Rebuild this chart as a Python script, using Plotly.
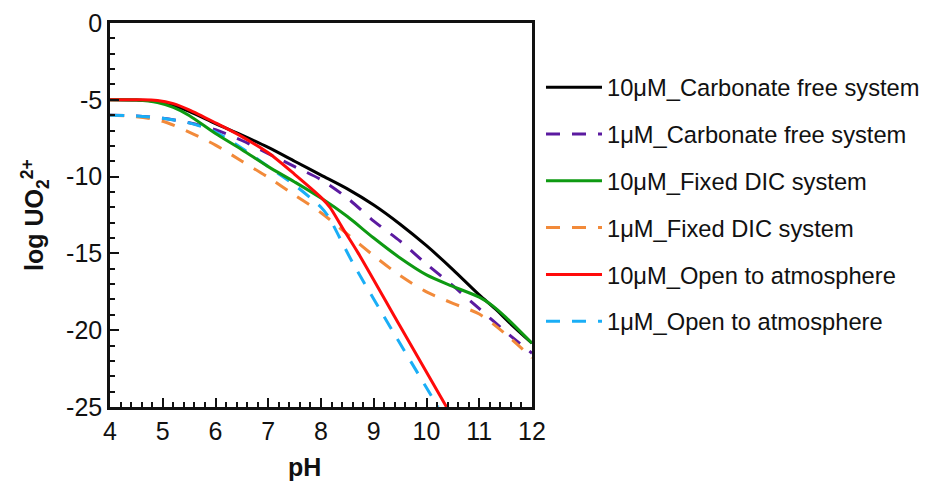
import plotly.graph_objects as go

# ---- data ----
names = ["10μM_Carbonate free system", "1μM_Carbonate free system",
         "10μM_Fixed DIC system", "1μM_Fixed DIC system",
         "10μM_Open to atmosphere", "1μM_Open to atmosphere"]

ph_cf10 = [4, 4.5, 5.0, 5.5, 6.0, 6.5, 7.0, 7.5, 8.0, 8.5, 9.0, 9.5, 10.0, 10.5, 11.0, 11.3, 11.6, 12]
lg_cf10 = [-5, -5.02, -5.15, -5.75, -6.55, -7.3, -8.1, -9.0, -9.9, -10.8, -11.85, -13.1, -14.5, -16.05, -17.7, -18.6, -19.6, -20.85]

ph_cf1 = [4, 4.5, 5.0, 5.5, 6.0, 6.5, 7.0, 7.5, 8.0, 8.5, 9.0, 9.5, 10.0, 10.5, 11.0, 11.5, 12]
lg_cf1 = [-6.0, -6.05, -6.2, -6.5, -6.95, -7.65, -8.5, -9.35, -10.2, -11.4, -12.9, -14.2, -15.7, -17.1, -18.6, -20.1, -21.5]

ph_dic10 = [4, 4.5, 4.9, 5.2, 5.5, 6.0, 6.5, 7.0, 7.5, 8.0, 8.5, 9.0, 9.5, 10.0, 10.5, 11.0, 11.25, 11.5, 12]
lg_dic10 = [-5, -5.02, -5.18, -5.5, -6.02, -7.2, -8.25, -9.35, -10.35, -11.4, -12.6, -14.0, -15.3, -16.4, -17.15, -17.85, -18.4, -19.15, -20.85]

ph_dic1 = [4, 4.5, 5.0, 5.5, 6.0, 6.5, 7.0, 7.5, 8.0, 8.5, 9.0, 9.5, 10.0, 10.5, 11.0, 11.5, 12]
lg_dic1 = [-6.0, -6.1, -6.4, -7.1, -7.95, -9.0, -10.05, -11.2, -12.35, -13.75, -15.15, -16.45, -17.5, -18.25, -18.95, -20.25, -21.8]

ph_open10 = [4, 4.5, 4.9, 5.2, 5.5, 6.0, 6.5, 7.0, 7.5, 8.0, 8.17, 8.4, 8.7, 9.5, 10.38]
lg_open10 = [-5, -5.0, -5.04, -5.25, -5.65, -6.5, -7.4, -8.45, -9.85, -11.35, -12.0, -13.3, -14.95, -19.75, -25]

ph_open1 = [4, 4.5, 5.0, 5.5, 6.0, 6.5, 7.0, 7.5, 8.0, 8.15, 8.35, 8.6, 9.4, 10.22]
lg_open1 = [-6.0, -6.05, -6.2, -6.5, -7.1, -8.15, -9.35, -10.55, -12.0, -12.65, -13.95, -15.6, -20.3, -25]

x_ticks = [4, 5, 6, 7, 8, 9, 10, 11, 12]
y_ticks = [0, -5, -10, -15, -20, -25]
y_ticktext = ["0", "-5", "-10", "-15", "-20", "-25"]

series = [
    (ph_cf10, lg_cf10, "#000000", "solid"),
    (ph_cf1, lg_cf1, "#5B1AA0", "14px,12px"),
    (ph_dic10, lg_dic10, "#0E9A12", "solid"),
    (ph_dic1, lg_dic1, "#F28A3A", "14px,12px"),
    (ph_open10, lg_open10, "#FF0A0A", "solid"),
    (ph_open1, lg_open1, "#1AAEF6", "14px,12px"),
]

fig = go.Figure()
draw_order = [1, 0, 3, 5, 2, 4]
traces = {}
for i, (xs, ys, col, dash) in enumerate(series):
    traces[i] = go.Scatter(
        x=xs, y=ys, mode="lines", name=names[i], legendrank=i + 1,
        legendgroup=f"g{i}",
        line=dict(color=col, width=3, dash=dash, shape="spline", smoothing=0.8),
    )
for i in draw_order:
    fig.add_trace(traces[i])

FONT = "Arial, Liberation Sans, sans-serif"
axis_font = dict(family=FONT, size=25, color="#111")

fig.update_layout(
    width=929, height=483,
    margin=dict(l=110, r=397, t=23, b=76, autoexpand=False),
    plot_bgcolor="white", paper_bgcolor="white",
    font=dict(family=FONT, color="#111"),
    showlegend=True,
    legend=dict(
        x=1.0213, xref="paper", xanchor="left", y=0.890, yanchor="top",
        font=dict(size=23.7, family=FONT, color="#111"),
        itemwidth=56, tracegroupgap=13, bgcolor="rgba(0,0,0,0)",
        traceorder="grouped",
    ),
    xaxis=dict(
        range=[4, 12], tickmode="array", tickvals=x_ticks,
        ticks="inside", ticklen=9, tickwidth=2, tickcolor="#111",
        minor=dict(ticks="inside", ticklen=5, tickwidth=2, tickcolor="#111", dtick=0.2, tick0=4),
        showline=True, linewidth=2.5, linecolor="#111", mirror=True,
        showgrid=False, zeroline=False, tickfont=axis_font,
    ),
    yaxis=dict(
        range=[-25, 0], tickmode="array", tickvals=y_ticks, ticktext=y_ticktext,
        ticks="inside", ticklen=9, tickwidth=2, tickcolor="#111",
        minor=dict(ticks="inside", ticklen=5, tickwidth=2, tickcolor="#111", dtick=1, tick0=0),
        showline=True, linewidth=2.5, linecolor="#111", mirror=True,
        showgrid=False, zeroline=False, tickfont=axis_font,
    ),
    annotations=[
        dict(text="<b>pH</b>", xref="paper", yref="paper", x=0.462, y=-0.155,
             xanchor="center", yanchor="middle", showarrow=False,
             font=dict(size=25, family=FONT, color="#111")),
        dict(text="<b>log UO<sub>2</sub><sup>2+</sup></b>", xref="paper", yref="paper",
             x=-0.178, y=0.5, xanchor="center", yanchor="middle", textangle=-90,
             showarrow=False,
             font=dict(size=25, family=FONT, color="#111")),
    ],
)

fig.write_html("out.html")
